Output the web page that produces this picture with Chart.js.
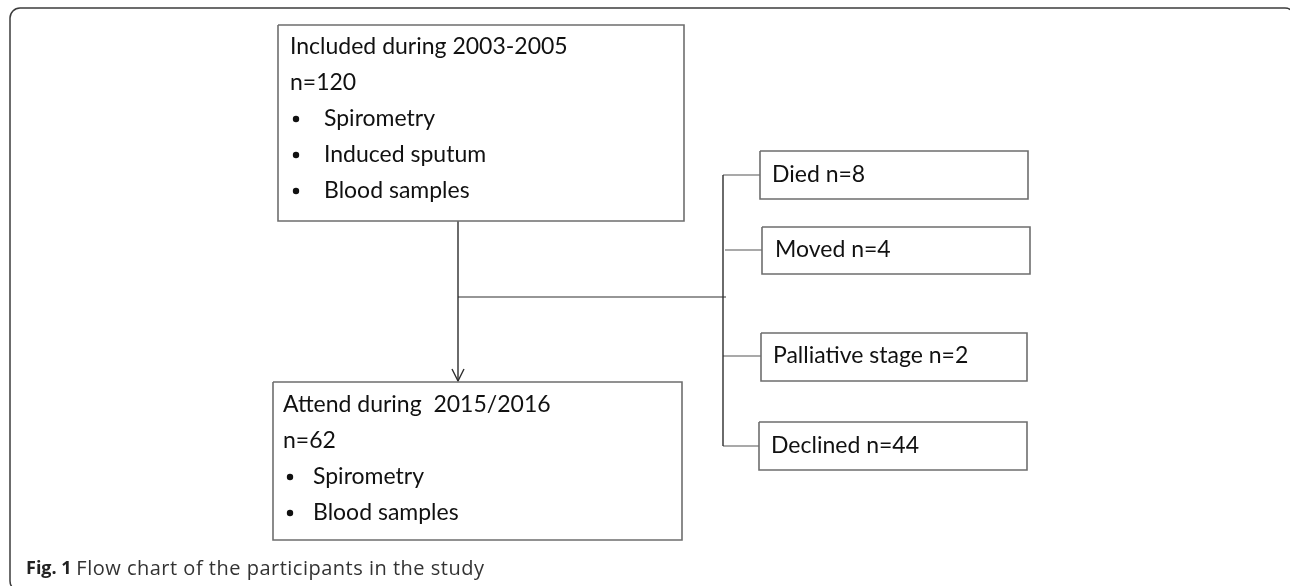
<!DOCTYPE html>
<html lang="en">
<head>
  <meta charset="UTF-8">
  <title>Flow chart of the participants</title>
  <style>
    body {
      margin: 0;
      padding: 0;
      background-color: #fff;
    }
    .chart-container {
      width: 1290px;
      height: 586px;
    }
  </style>
</head>
<body>
  <div class="chart-container">
    <canvas id="flowChart" width="1290" height="586"></canvas>
  </div>

  <script src="https://cdn.jsdelivr.net/npm/chart.js"></script>
  <script>
    // Study stages and counts
    const stageNames = ['Included during 2003-2005', 'Attend during  2015/2016'];
    const stageCounts = [120, 62];
    const stageTests = [
      ['Spirometry', 'Induced sputum', 'Blood samples'],
      ['Spirometry', 'Blood samples']
    ];
    const lossReasons = ['Died', 'Moved', 'Palliative stage', 'Declined'];
    const lossCounts = [8, 4, 2, 44];
    const captionLabel = 'Fig. 1';
    const captionText = 'Flow chart of the participants in the study';

    // Layout in the chart's own units (x 0..1290, y 0..586 top-down)
    const stageBoxes = [
      { x0: 278, x1: 684, y0: 25, y1: 221, tx: 290, bx: 296, btx: 324, lineY: 47, step: 36 },
      { x0: 273, x1: 682, y0: 382, y1: 540, tx: 283, bx: 290, btx: 313, lineY: 405, step: 36 }
    ];
    const lossBoxes = [
      { x0: 760, x1: 1028, y0: 151, y1: 199, tx: 772, cy: 175, cx: 723 },
      { x0: 762, x1: 1030, y0: 227, y1: 274, tx: 775, cy: 250, cx: 725 },
      { x0: 761, x1: 1027, y0: 333, y1: 381, tx: 773, cy: 356, cx: 723 },
      { x0: 759, x1: 1027, y0: 422, y1: 470, tx: 771, cy: 446, cx: 723 }
    ];
    const trunkX = 458, branchY = 297, sideX = 723;

    const boxColor = '#6e6e6e';
    const lineColor = '#2e2e2e';
    const textColor = '#111';
    const boxFont = '23px Lato, "Open Sans", sans-serif';

    function boxPath(b) {
      return [
        { x: b.x0, y: b.y0 }, { x: b.x1, y: b.y0 },
        { x: b.x1, y: b.y1 }, { x: b.x0, y: b.y1 }, { x: b.x0, y: b.y0 }
      ];
    }

    function lineSet(points, color, width) {
      return {
        data: points,
        showLine: true,
        borderColor: color,
        borderWidth: width,
        pointRadius: 0,
        fill: false,
        tension: 0
      };
    }

    const datasets = [];
    stageBoxes.forEach(b => datasets.push(lineSet(boxPath(b), boxColor, 1.6)));
    lossBoxes.forEach(b => datasets.push(lineSet(boxPath(b), boxColor, 1.6)));
    // trunk with arrow
    datasets.push(lineSet([{ x: trunkX, y: stageBoxes[0].y1 }, { x: trunkX, y: stageBoxes[1].y0 - 1 }], lineColor, 1.4));
    datasets.push(lineSet([
      { x: trunkX - 6, y: stageBoxes[1].y0 - 13 },
      { x: trunkX, y: stageBoxes[1].y0 - 1 },
      { x: trunkX + 6, y: stageBoxes[1].y0 - 13 }
    ], lineColor, 1.4));
    // branch to the side column
    datasets.push(lineSet([{ x: trunkX, y: branchY }, { x: sideX + 3, y: branchY }], lineColor, 1.2));
    datasets.push(lineSet([{ x: sideX, y: lossBoxes[0].cy }, { x: sideX, y: lossBoxes[3].cy }], lineColor, 1.4));
    lossBoxes.forEach(b => datasets.push(lineSet([{ x: b.cx, y: b.cy }, { x: b.x0, y: b.cy }], '#555', 1.2)));

    const textPlugin = {
      id: 'flowText',
      afterDatasetsDraw(chart) {
        const ctx = chart.ctx;
        const sx = v => chart.scales.x.getPixelForValue(v);
        const sy = v => chart.scales.y.getPixelForValue(v);
        ctx.save();
        ctx.fillStyle = textColor;
        ctx.textBaseline = 'middle';
        ctx.font = boxFont;

        stageBoxes.forEach((b, i) => {
          const lines = [stageNames[i], 'n=' + stageCounts[i]];
          lines.forEach((t, j) => ctx.fillText(t, sx(b.tx), sy(b.lineY + j * b.step)));
          stageTests[i].forEach((t, j) => {
            const y = sy(b.lineY + (j + 2) * b.step);
            ctx.beginPath();
            ctx.arc(sx(b.bx), y, 3.2, 0, Math.PI * 2);
            ctx.fill();
            ctx.fillText(t, sx(b.btx), y);
          });
        });

        lossBoxes.forEach((b, i) => {
          ctx.fillText(lossReasons[i] + ' n=' + lossCounts[i], sx(b.tx), sy(b.cy));
        });

        // outer frame
        ctx.strokeStyle = '#3c3c3c';
        ctx.lineWidth = 1.5;
        ctx.beginPath();
        ctx.roundRect(sx(10), sy(8), sx(1295) - sx(10), sy(591) - sy(8), 10);
        ctx.stroke();

        // caption
        ctx.fillStyle = '#222';
        ctx.font = 'bold 18px "Open Sans", sans-serif';
        ctx.fillText(captionLabel, sx(26), sy(569));
        const w = ctx.measureText(captionLabel + ' ').width;
        ctx.font = '20px "Open Sans", sans-serif';
        ctx.fillStyle = '#333';
        ctx.letterSpacing = '0.5px';
        ctx.fillText(captionText, sx(26) + w, sy(569));
        ctx.restore();
      }
    };

    new Chart(document.getElementById('flowChart'), {
      type: 'scatter',
      data: { datasets: datasets },
      options: {
        responsive: false,
        animation: false,
        layout: { padding: 0 },
        plugins: {
          legend: { display: false },
          tooltip: { enabled: false }
        },
        scales: {
          x: { type: 'linear', min: 0, max: 1290, display: false },
          y: { type: 'linear', min: 0, max: 586, reverse: true, display: false }
        }
      },
      plugins: [textPlugin]
    });
  </script>
</body>
</html>
